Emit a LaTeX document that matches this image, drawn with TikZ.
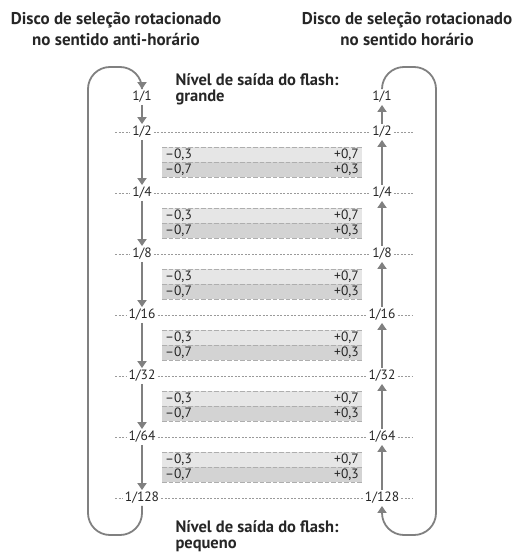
\documentclass[tikz,border=0pt]{standalone}
\usepackage{fontspec}
\setmainfont{PT Sans}
\usetikzlibrary{arrows.meta,positioning,calc}
\definecolor{flowgray}{HTML}{808080}
\definecolor{barlight}{HTML}{E6E6E6}
\definecolor{bardark}{HTML}{D3D3D3}
\definecolor{dashgray}{HTML}{9A9A9A}

\begin{document}
\begin{tikzpicture}[x=1pt,y=-1pt,
  every node/.style={font=\fontsize{13.5}{15}\selectfont,text=black!85},
  titletxt/.style={font=\fontsize{17}{21}\selectfont\bfseries,align=center},
  headtxt/.style={font=\fontsize{16.5}{16}\selectfont\bfseries,align=left,anchor=north west},
  lvl/.style={inner sep=2pt},
  lvlline/.style={draw=dashgray,line width=0.5pt,dash pattern=on 2pt off 1.5pt},
  barline/.style={draw=dashgray!80,line width=0.6pt,dash pattern=on 4.5pt off 2pt},
  flow/.style={draw=flowgray,line width=1.8pt,-{Triangle[length=7pt,width=9pt]}},
  loopline/.style={draw=flowgray,line width=1.8pt,rounded corners=22pt}]
  \useasboundingbox (0,0) rectangle (522,554);

  \node[titletxt] (tleft) at (116,29) {Disco de seleção rotacionado\\no sentido anti-horário};
  \node[titletxt] (tright) at (407,29) {Disco de seleção rotacionado\\no sentido horário};
  \node[headtxt] (hbig) at (172,70) {Nível de saída do flash:\\grande};
  \node[headtxt] (hsmall) at (172,517) {Nível de saída do flash:\\pequeno};

  % levels
  \node[lvl] (l0) at (142,97) {1/1};
  \node[lvl] (r0) at (382,97) {1/1};
  \foreach \i/\y/\t in {1/132/1\slash 2,2/193/1\slash 4,3/254/1\slash 8,4/315/1\slash 16,5/376/1\slash 32,6/437/1\slash 64,7/498/1\slash 128}{
    \node[lvl] (l\i) at (142,\y) {\t};
    \node[lvl] (r\i) at (382,\y) {\t};
    \coordinate (le\i) at (115,\y);
    \coordinate (re\i) at (413,\y);
    \draw[lvlline] (le\i) -- (l\i.west);
    \draw[lvlline] (l\i.east) -- (r\i.west);
    \draw[lvlline] (r\i.east) -- (re\i);
  }

  % correction bars
  \foreach \i/\y in {1/132,2/193,3/254,4/315,5/376,6/437}{
    \fill[barlight] (162,\y+15) rectangle (362,\y+30);
    \fill[bardark] (162,\y+30) rectangle (362,\y+45);
    \foreach \d in {15,30,45}
      \draw[barline] (162,\y+\d) -- (362,\y+\d);
    \node[anchor=west,inner sep=0pt] (ma\i) at (165,\y+22.5) {–0,3};
    \node[anchor=west,inner sep=0pt] (mb\i) at (165,\y+37.5) {–0,7};
    \node[anchor=east,inner sep=0pt] (pa\i) at (359,\y+22.5) {+0,7};
    \node[anchor=east,inner sep=0pt] (pb\i) at (359,\y+37.5) {+0,3};
  }

  % arrows
  \foreach \a/\b in {0/1,1/2,2/3,3/4,4/5,5/6,6/7}{
    \draw[flow] (l\a.south) -- (l\b.north);
    \draw[flow] (r\b.north) -- (r\a.south);
  }
  \coordinate (lbot) at (88,535);
  \coordinate (ltop) at (88,67);
  \coordinate (rtop) at (436,67);
  \coordinate (rbot) at (436,535);
  \draw[loopline,-{Triangle[length=7pt,width=9pt]}] (l7.south) |- (lbot) -- (ltop) -| (l0.north);
  \draw[loopline,-{Triangle[length=7pt,width=9pt]}] (r0.north) |- (rtop) -- (rbot) -| (r7.south);
\end{tikzpicture}
\end{document}
